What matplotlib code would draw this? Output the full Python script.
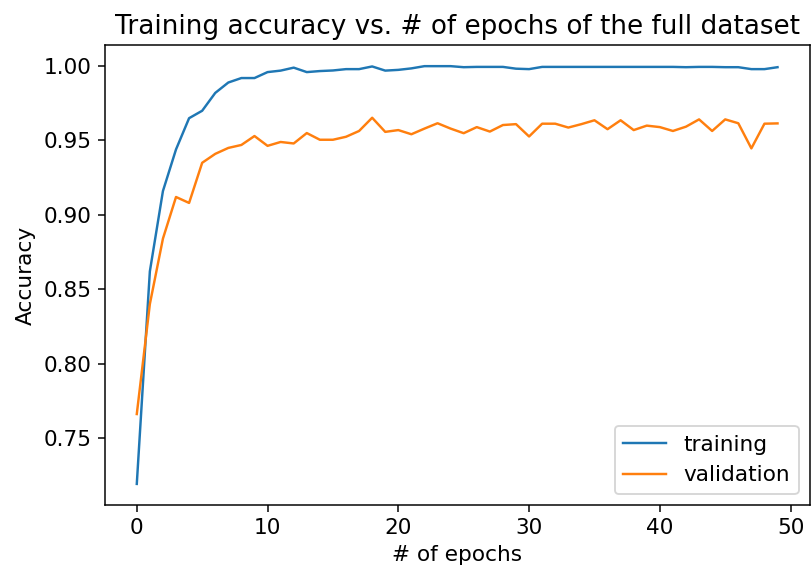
import numpy as np
import matplotlib
matplotlib.use("Agg")
import matplotlib.pyplot as plt

# accuracy per epoch
train_acc = [0.719, 0.862, 0.916, 0.944, 0.965, 0.970, 0.982, 0.989, 0.992, 0.992,
             0.996, 0.997, 0.999, 0.996, 0.9967, 0.9971, 0.998, 0.998, 0.9998, 0.997,
             0.9975, 0.9985, 1.000, 1.000, 1.000, 0.9993, 0.9995, 0.9995, 0.9995, 0.9983,
             0.998, 0.9995, 0.9995, 0.9995, 0.9995, 0.9995, 0.9995, 0.9995, 0.9995, 0.9995,
             0.9995, 0.9995, 0.9993, 0.9995, 0.9995, 0.9993, 0.9993, 0.998, 0.998, 0.9993]
val_acc = [0.766, 0.840, 0.884, 0.912, 0.908, 0.935, 0.941, 0.945, 0.947, 0.953,
           0.9464, 0.949, 0.948, 0.955, 0.9505, 0.9505, 0.9525, 0.9564, 0.9653, 0.9558,
           0.957, 0.9542, 0.958, 0.9616, 0.958, 0.9549, 0.959, 0.956, 0.9604, 0.961,
           0.9527, 0.9613, 0.9613, 0.9587, 0.961, 0.9636, 0.9576, 0.9636, 0.957, 0.960,
           0.959, 0.9564, 0.9593, 0.9642, 0.9564, 0.9642, 0.9616, 0.9447, 0.9613, 0.9615]
epochs = np.arange(len(train_acc))

plt.rcParams['font.size'] = 11.5

fig = plt.figure(figsize=(812 / 135, 573 / 135), dpi=135)
ax = fig.add_axes([0.129, 0.119, 0.868, 0.802])

ax.plot(epochs, train_acc, label='training', lw=1.3)
ax.plot(epochs, val_acc, label='validation', lw=1.3)

ax.set_title('Training accuracy vs. # of epochs of the full dataset', fontsize=14)
ax.set_xlabel('# of epochs')
ax.set_ylabel('Accuracy')
ax.legend(loc='lower right')

fig.savefig('out.png', dpi=135)
